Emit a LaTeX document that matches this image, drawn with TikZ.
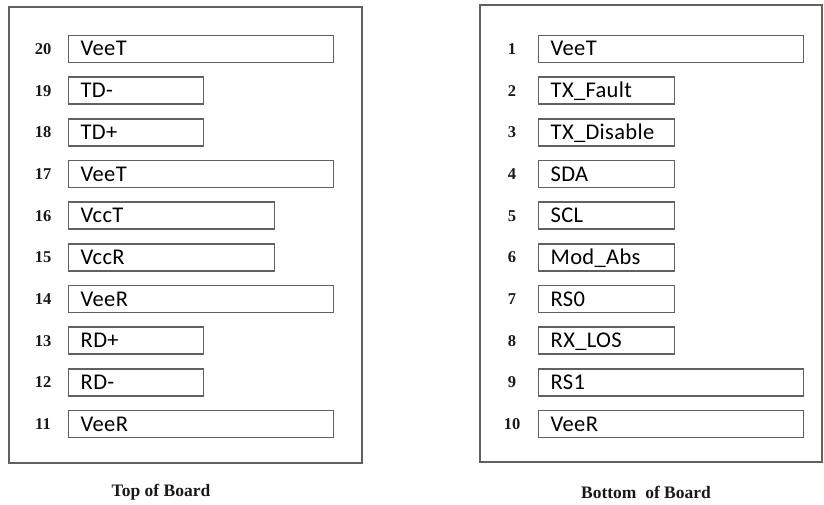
\documentclass[tikz,border=0pt]{standalone}
\usepackage{fontspec}
\setmainfont{Liberation Serif}
\newfontfamily\pinfont[LetterSpace=1.5]{Carlito}
\begin{document}
\begin{tikzpicture}[x=1pt,y=-1pt,
  frame/.style={draw=black!62,line width=1.5pt},
  pinbox/.style={draw=black!62,line width=1.4pt,fill=white,minimum height=27pt,inner sep=0pt,
    anchor=west,text height=16pt,text depth=2pt,align=left,text width=#1,
    minimum width=#1,font=\pinfont\fontsize{22.5}{22.5}\selectfont},
  pinnum/.style={font=\bfseries\fontsize{16.5}{16.5}\selectfont,text=black!90},
  caption/.style={font=\bfseries\fontsize{17.5}{17.5}\selectfont,text=black!90}]
\useasboundingbox (0,0) rectangle (824,505);
% board outlines
\draw[frame] (9,7) rectangle (362,463);
\draw[frame] (480,5) rectangle (822,462);
% top of board, pins 20..11
\foreach \n/\lbl/\w [count=\i from 0] in {20/VeeT/265,19/TD-/135,18/TD+/135,17/VeeT/265,16/VccT/206,15/VccR/206,14/VeeR/265,13/RD+/135,12/RD-/135,11/VeeR/265}{
  \node[pinnum] (tn\n) at (43,49+41.67*\i) {\n};
  \node[pinbox=\w pt] (tb\n) at (68,49+41.67*\i) {\hspace*{12pt}\lbl};
}
% bottom of board, pins 1..10
\foreach \n/\lbl/\w [count=\i from 0] in {1/VeeT/265,2/TX\_Fault/136,3/TX\_Disable/136,4/SDA/136,5/SCL/136,6/Mod\_Abs/136,7/RS0/136,8/RX\_LOS/136,9/RS1/265,10/VeeR/265}{
  \node[pinnum] (bn\n) at (512,49+41.67*\i) {\n};
  \node[pinbox=\w pt] (bb\n) at (538,49+41.67*\i) {\hspace*{12pt}\lbl};
}
\node[caption] (topcap) at (161,492) {Top of Board};
\node[caption] (botcap) at (646,492) {Bottom\ \ of Board};
\end{tikzpicture}
\end{document}
